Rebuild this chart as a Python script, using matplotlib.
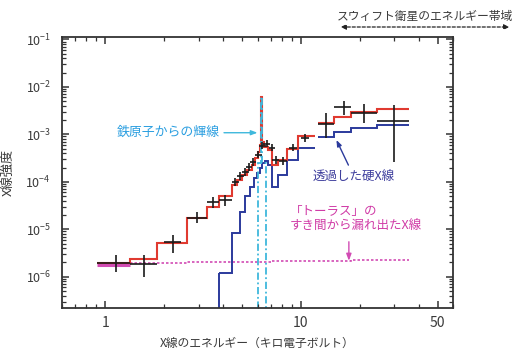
import matplotlib
matplotlib.use('Agg')
import matplotlib.pyplot as plt
from matplotlib.ticker import LogLocator, NullFormatter, FixedLocator, FixedFormatter

plt.rcParams['font.family'] = ['Noto Sans CJK JP', 'DejaVu Sans']
plt.rcParams['mathtext.default'] = 'regular'

# --- model (red): low-energy part and Swift part
red_edges = [0.91, 1.34, 1.84, 2.62, 3.31, 3.81, 4.45, 4.72, 5.00, 5.31, 5.63, 5.83,
             6.05, 6.19, 6.28, 6.34, 6.49, 6.79, 7.12, 7.62, 8.47, 9.63, 11.8]
red_vals = [1.97e-6, 2.39e-6, 5.2e-6, 1.75e-5, 2.98e-5, 5.07e-5, 8.65e-5, 1.10e-4,
            1.40e-4, 1.79e-4, 2.28e-4, 3.2e-4, 4.28e-4, 6.0e-4, 6.2e-3, 6.95e-4,
            5.45e-4, 4.72e-4, 2.28e-4, 2.9e-4, 4.96e-4, 9.3e-4]
red_bat_edges = [12.2, 14.8, 18.0, 24.4, 35.9]
red_bat_vals = [1.75e-3, 2.33e-3, 2.98e-3, 3.44e-3]

# --- transmitted hard X-rays (blue)
blue_edges = [3.81, 4.45, 4.89, 5.18, 5.49, 5.75, 5.96, 6.19, 6.34, 6.55, 6.79,
              7.12, 7.62, 8.47, 9.63, 11.8]
blue_vals = [1.21e-6, 8.4e-6, 2.33e-5, 5.07e-5, 7.85e-5, 1.21e-4, 1.55e-4, 1.97e-4,
             2.51e-4, 2.77e-4, 2.28e-4, 7.85e-5, 1.40e-4, 2.9e-4, 5.2e-4]
blue_bat_edges = [12.2, 14.8, 18.0, 24.4, 35.9]
blue_bat_vals = [8.85e-4, 1.10e-3, 1.37e-3, 1.55e-3]

# --- scattered component leaking through the torus (magenta)
scat_first_edges = [0.91, 1.34]
scat_first_vals = [1.8e-6]
scat_edges = [1.34, 2.62, 4.45, 7.12, 11.8]
scat_vals = [1.95e-6, 2.0e-6, 2.08e-6, 2.12e-6]
scat_bat_edges = [12.2, 18.0, 35.9]
scat_bat_vals = [2.2e-6, 2.28e-6]

# --- iron line (cyan)
fe_edges = [6.05, 6.28, 6.34, 6.6]
fe_vals = [2.5e-4, 6.2e-3, 2.5e-4]

# --- observed data (crosses)
data_e = [1.14, 1.58, 2.22, 2.95, 3.56, 4.09, 4.60, 4.89, 5.18, 5.43, 5.69, 6.05,
          6.34, 6.70, 7.12, 7.45, 8.09, 9.10, 10.5, 13.5, 16.6, 21.0, 29.8]
data_elo = [0.91, 1.34, 2.00, 2.62, 3.31, 3.81, 4.42, 4.70, 4.97, 5.22, 5.47, 5.80,
            6.08, 6.42, 6.83, 7.15, 7.75, 8.70, 10.0, 12.2, 14.8, 18.0, 24.4]
data_ehi = [1.34, 1.84, 2.45, 3.31, 3.81, 4.45, 4.80, 5.10, 5.40, 5.65, 5.92, 6.30,
            6.60, 6.98, 7.40, 7.75, 8.45, 9.50, 11.0, 14.8, 18.0, 24.4, 35.9]
data_f = [1.97e-6, 1.88e-6, 5.46e-6, 1.75e-5, 3.79e-5, 4.18e-5, 1.0e-4, 1.34e-4,
          1.63e-4, 2.07e-4, 2.64e-4, 3.7e-4, 5.7e-4, 6.3e-4, 5.2e-4, 2.9e-4, 2.77e-4,
          5.2e-4, 8.4e-4, 1.66e-3, 3.8e-3, 2.84e-3, 1.92e-3]
data_flo = [1.27e-6, 1.0e-6, 3.2e-6, 1.37e-5, 2.84e-5, 3.12e-5, 8.2e-5, 1.1e-4,
            1.35e-4, 1.72e-4, 2.2e-4, 3.1e-4, 4.8e-4, 5.3e-4, 4.35e-4, 2.4e-4, 2.3e-4,
            4.35e-4, 7.0e-4, 8.4e-4, 2.58e-3, 1.75e-3, 2.64e-4]
data_fhi = [2.9e-6, 2.9e-6, 7.66e-6, 2.33e-5, 4.8e-5, 5.3e-5, 1.2e-4, 1.6e-4,
            1.95e-4, 2.5e-4, 3.2e-4, 4.4e-4, 6.8e-4, 7.5e-4, 6.2e-4, 3.5e-4, 3.3e-4,
            6.2e-4, 1.0e-3, 2.84e-3, 5.07e-3, 4.3e-3, 4.18e-3]

xticks = [1, 10, 50]
xtick_labels = ['1', '10', '50']
yticks = [1e-6, 1e-5, 1e-4, 1e-3, 1e-2, 1e-1]
ytick_labels = ['10$^{-6}$', '10$^{-5}$', '10$^{-4}$', '10$^{-3}$', '10$^{-2}$', '10$^{-1}$']

RED = '#e03a30'
BLUE = '#2b3a9c'
MAG = '#d24cb4'
CYAN = '#3fb8dc'
INK = '#3a3a3a'

fig = plt.figure(figsize=(5.26, 3.51), dpi=100)
ax = fig.add_axes([62 / 526, 1 - 308 / 351, 391 / 526, 271 / 351])
ax.set_xscale('log')
ax.set_yscale('log')
ax.set_xlim(0.6, 60)
ax.set_ylim(2.2e-7, 0.112)

# components
ax.stairs(scat_first_vals, scat_first_edges, baseline=None, color=MAG, lw=2.2)
ax.stairs(scat_vals, scat_edges, baseline=None, color=MAG, lw=1.2, ls=(0, (1.5, 1.2)))
ax.stairs(scat_bat_vals, scat_bat_edges, baseline=None, color=MAG, lw=1.2, ls=(0, (1.5, 1.2)))

ax.stairs(blue_vals, blue_edges, baseline=None, color=BLUE, lw=1.4)
ax.vlines(blue_edges[0], 1e-8, blue_vals[0], color=BLUE, lw=1.4)
ax.stairs(blue_bat_vals, blue_bat_edges, baseline=None, color=BLUE, lw=1.4)

ax.stairs(red_vals, red_edges, baseline=None, color=RED, lw=1.5)
ax.stairs(red_bat_vals, red_bat_edges, baseline=None, color=RED, lw=1.5)

ax.stairs(fe_vals, fe_edges, baseline=1e-8, color=CYAN, lw=1.3, ls=(0, (4, 1.5, 1, 1.5)))

# data crosses
xerr = [[e - lo for e, lo in zip(data_e, data_elo)], [hi - e for e, hi in zip(data_e, data_ehi)]]
yerr = [[f - lo for f, lo in zip(data_f, data_flo)], [hi - f for f, hi in zip(data_f, data_fhi)]]
ax.errorbar(data_e, data_f, xerr=xerr, yerr=yerr, fmt='none', ecolor='#1a1a1a',
            elinewidth=1.2, capsize=0, zorder=5)

# axes styling
for s in ax.spines.values():
    s.set_color('#333333')
    s.set_linewidth(1.3)
ax.xaxis.set_major_locator(FixedLocator(xticks))
ax.xaxis.set_major_formatter(FixedFormatter(xtick_labels))
ax.xaxis.set_minor_locator(LogLocator(base=10, subs=range(2, 10)))
ax.xaxis.set_minor_formatter(NullFormatter())
ax.yaxis.set_major_locator(FixedLocator(yticks))
ax.yaxis.set_major_formatter(FixedFormatter(ytick_labels))
ax.yaxis.set_minor_locator(LogLocator(base=10, subs=range(2, 10), numticks=20))
ax.yaxis.set_minor_formatter(NullFormatter())
ax.tick_params(which='both', direction='in', top=True, right=True, colors='#333333',
               labelcolor=INK)
ax.tick_params(axis='x', labelsize=10, pad=6)
ax.tick_params(axis='y', labelsize=9, pad=8)
ax.tick_params(which='major', length=5, width=1.1)
ax.tick_params(which='minor', length=3, width=0.9)

ax.set_xlabel('X線のエネルギー（キロ電子ボルト）', fontsize=8.5, color=INK, labelpad=5)
ax.set_ylabel('X線強度', fontsize=9.5, color=INK)
ax.yaxis.set_label_coords(-0.12, 0.5)

# annotations
ax.annotate('鉄原子からの輝線', xy=(6.0, 1.08e-3), xytext=(3.85, 1.08e-3),
            ha='right', va='center', fontsize=9.3, color='#2a9ee0',
            arrowprops=dict(arrowstyle='-|>,head_length=0.4,head_width=0.15',
                            color=CYAN, lw=1.0, shrinkA=1, shrinkB=0))
ax.annotate('透過した硬X線', xy=(15.2, 7.6e-4), xytext=(18.7, 1.27e-4),
            ha='center', va='center', fontsize=9, color='#3c3c9c',
            arrowprops=dict(arrowstyle='-|>,head_length=0.4,head_width=0.15',
                            color=BLUE, lw=1.0, shrinkA=2, shrinkB=0))
ax.text(8.8, 1.7e-5, '「トーラス」の\nすき間から漏れ出たX線', ha='left', va='center',
        fontsize=9, color='#d03aa6', linespacing=1.05)
ax.annotate('', xy=(17.6, 2.17e-6), xytext=(17.6, 5.46e-6),
            arrowprops=dict(arrowstyle='-|>,head_length=0.4,head_width=0.15',
                            color=MAG, lw=1.0, shrinkA=0, shrinkB=0))

fig.text(0.808, 0.954, 'スウィフト衛星のエネルギー帯域', ha='center', va='center',
         fontsize=8.5, color=INK)
fig.patches.append(matplotlib.patches.FancyArrowPatch(
    (338 / 526, 1 - 27 / 351), (512 / 526, 1 - 27 / 351), transform=fig.transFigure,
    arrowstyle='<|-|>,head_length=3,head_width=1.5', color='#222222', lw=0.9,
    ls=(0, (2.5, 1.5))))

fig.savefig('out.png', dpi=100)
